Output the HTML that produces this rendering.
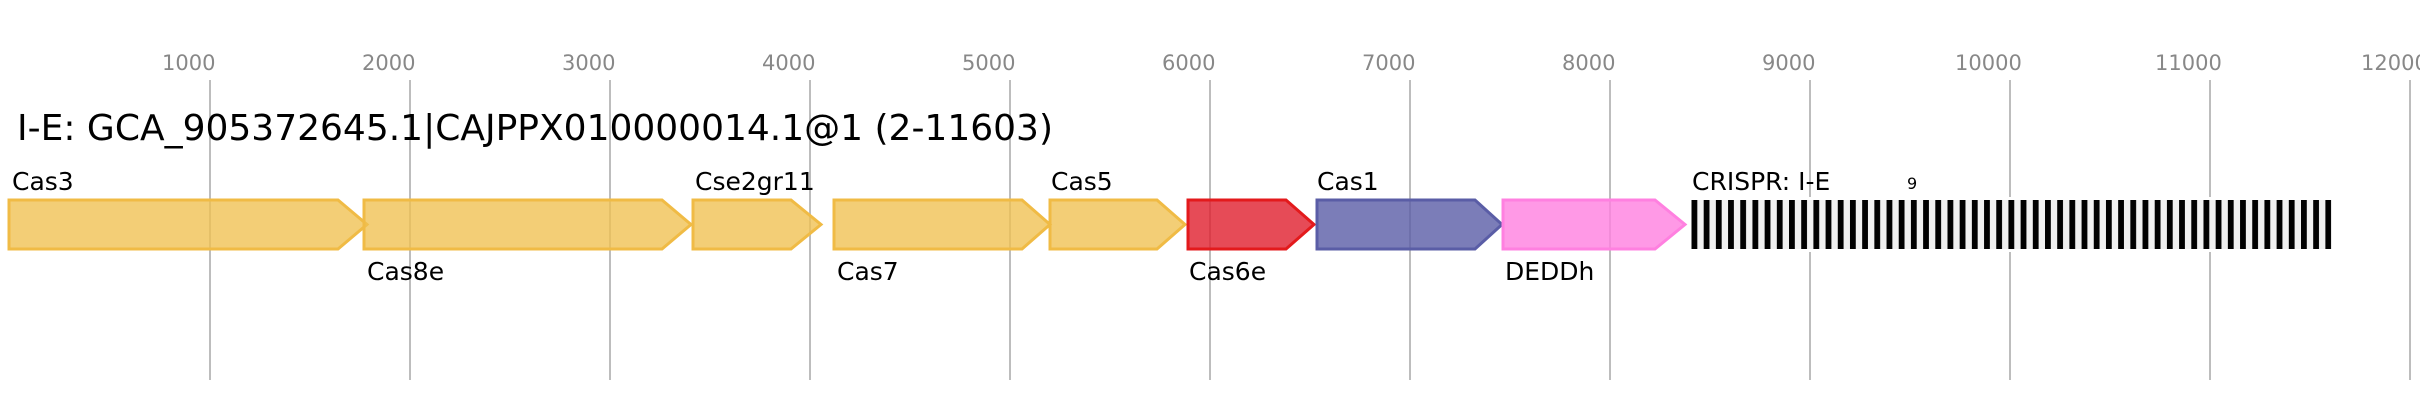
<!DOCTYPE html>
<html><head><meta charset="utf-8"><style>
html,body{margin:0;padding:0;background:#fff;}
svg{display:block;font-family:"DejaVu Sans","Liberation Sans",sans-serif;}
</style></head><body>
<svg width="2420" height="400" viewBox="0 0 2420 400" xmlns="http://www.w3.org/2000/svg">
<defs>
<pattern id="cr" patternUnits="userSpaceOnUse" x="1691.5" y="200" width="12.19" height="49">
<rect x="0" y="0" width="12.19" height="49" fill="#f0f0f0"/>
<rect x="0" y="0" width="5.8" height="49" fill="#000"/>
</pattern>
</defs>
<g stroke="#bdbdbd" stroke-width="2">
<line x1="210" y1="80" x2="210" y2="380"/>
<line x1="410" y1="80" x2="410" y2="380"/>
<line x1="610" y1="80" x2="610" y2="380"/>
<line x1="810" y1="80" x2="810" y2="380"/>
<line x1="1010" y1="80" x2="1010" y2="380"/>
<line x1="1210" y1="80" x2="1210" y2="380"/>
<line x1="1410" y1="80" x2="1410" y2="380"/>
<line x1="1610" y1="80" x2="1610" y2="380"/>
<line x1="1810" y1="80" x2="1810" y2="380"/>
<line x1="2010" y1="80" x2="2010" y2="380"/>
<line x1="2210" y1="80" x2="2210" y2="380"/>
<line x1="2410" y1="80" x2="2410" y2="380"/>
</g>
<g fill="#888" font-size="21">
<text x="162" y="70">1000</text>
<text x="362" y="70">2000</text>
<text x="562" y="70">3000</text>
<text x="762" y="70">4000</text>
<text x="962" y="70">5000</text>
<text x="1162" y="70">6000</text>
<text x="1362" y="70">7000</text>
<text x="1562" y="70">8000</text>
<text x="1762" y="70">9000</text>
<text x="1955" y="70">10000</text>
<text x="2155" y="70">11000</text>
<text x="2361" y="70">12000</text>
</g>
<text x="17" y="140" font-size="36" fill="#000">I-E: GCA_905372645.1|CAJPPX010000014.1@1 (2-11603)</text>
<g stroke-width="3" stroke-linejoin="miter">
<polygon points="9,200 338,200 367,224.5 338,249 9,249" fill="rgba(240,192,80,0.78)" stroke="#f0bb45"/>
<polygon points="364,200 662,200 691,224.5 662,249 364,249" fill="rgba(240,192,80,0.78)" stroke="#f0bb45"/>
<polygon points="693,200 791,200 821,224.5 791,249 693,249" fill="rgba(240,192,80,0.78)" stroke="#f0bb45"/>
<polygon points="834,200 1022,200 1050,224.5 1022,249 834,249" fill="rgba(240,192,80,0.78)" stroke="#f0bb45"/>
<polygon points="1050,200 1157,200 1185,224.5 1157,249 1050,249" fill="rgba(240,192,80,0.78)" stroke="#f0bb45"/>
<polygon points="1188,200 1286,200 1314,224.5 1286,249 1188,249" fill="rgba(224,30,45,0.8)" stroke="#e31a1c"/>
<polygon points="1317,200 1475,200 1502,224.5 1475,249 1317,249" fill="rgba(90,93,166,0.8)" stroke="#5a5da6"/>
<polygon points="1503,200 1655,200 1685,224.5 1655,249 1503,249" fill="rgba(255,128,224,0.8)" stroke="#ff80e0"/>
</g>
<rect x="1690" y="197" width="642" height="55" fill="#fff"/>
<rect x="1691.5" y="200" width="639.7" height="49" fill="url(#cr)"/>
<g font-size="25" fill="#000">
<text x="12" y="190">Cas3</text>
<text x="367" y="280">Cas8e</text>
<text x="695" y="190">Cse2gr11</text>
<text x="837" y="280">Cas7</text>
<text x="1051" y="190">Cas5</text>
<text x="1189" y="280">Cas6e</text>
<text x="1317" y="190">Cas1</text>
<text x="1505" y="280">DEDDh</text>
<text x="1692" y="190">CRISPR: I-E</text>
</g>
<text x="1907" y="189" font-size="16" fill="#000">9</text>
</svg>
</body></html>
